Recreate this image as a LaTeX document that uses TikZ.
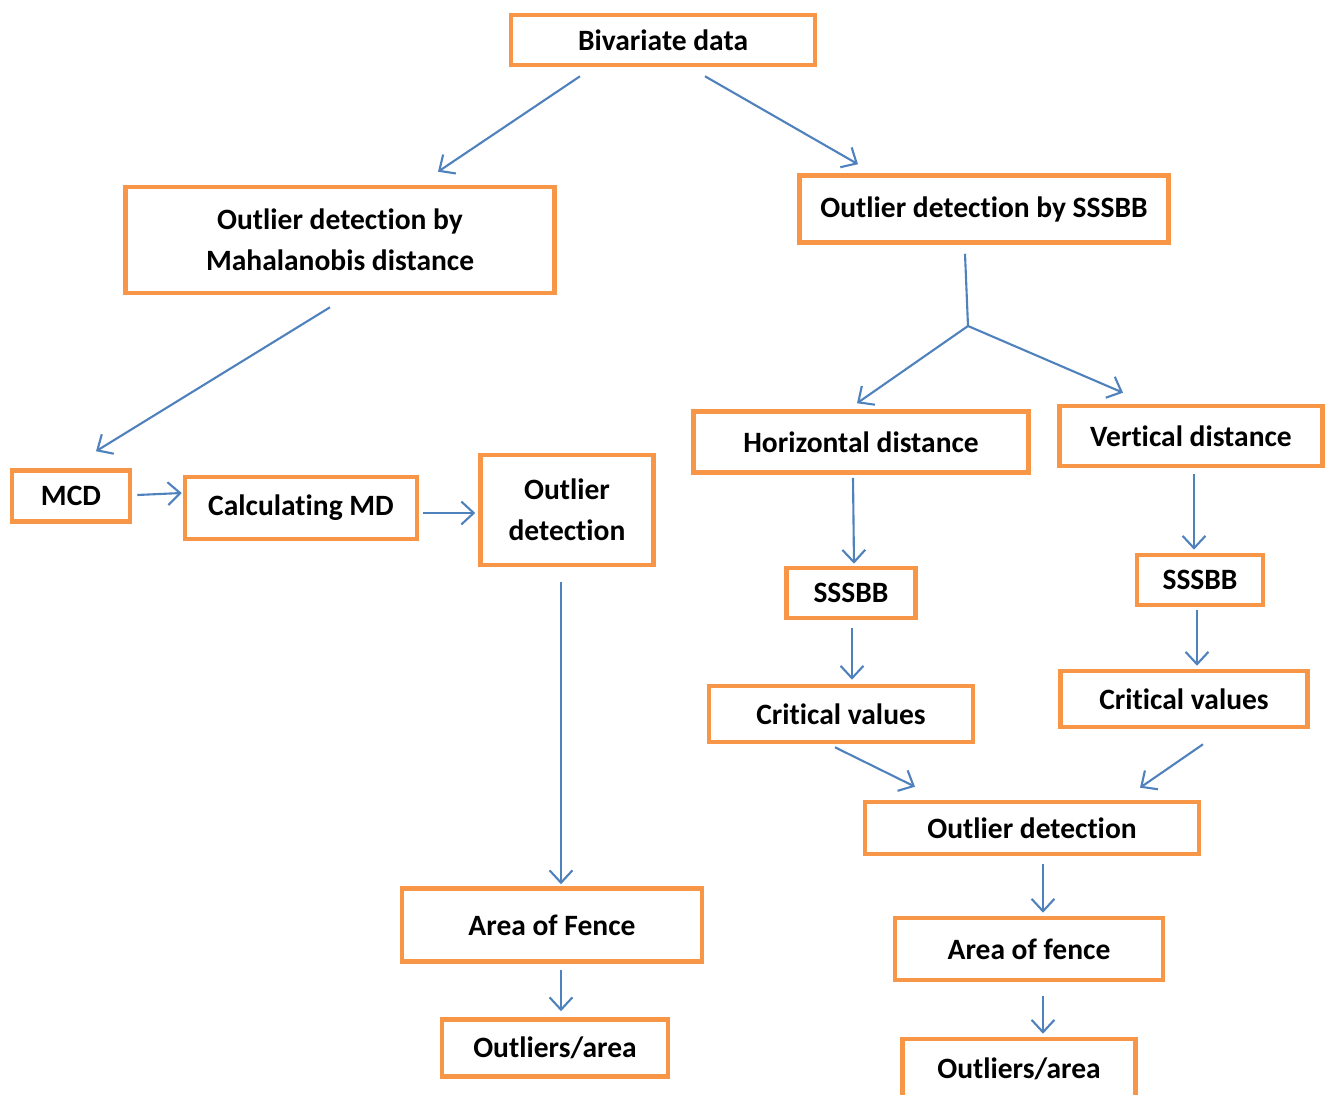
\documentclass[tikz,border=0pt]{standalone}
\usepackage{fontspec}
\setmainfont[Ligatures=NoCommon]{Carlito}
\usetikzlibrary{calc,arrows.meta}
\definecolor{boxorange}{HTML}{F79646}
\definecolor{lineblue}{HTML}{4F81BD}

\begin{document}
\begin{tikzpicture}[x=0.02cm,y=-0.02cm,
  box/.style={draw=boxorange,line width=2.6pt,inner sep=0pt,align=center,
    font=\fontsize{16.8}{23.5}\selectfont\bfseries},
  link/.style={draw=lineblue,line width=1.2pt,-{Straight Barb[length=7pt,width=13pt]}}]
\useasboundingbox (0,0) rectangle (1332,1095);
% top
\node[box,minimum width=6.08cm,minimum height=1cm] (bivar) at (663,40) {Bivariate data};
\node[box,minimum width=8.58cm,minimum height=2.12cm] (maha) at (340,240) {Outlier detection by\\Mahalanobis distance};
\node[box,minimum width=7.38cm,minimum height=1.34cm] (sssbb) at (984,209) {Outlier detection by SSSBB};
% left branch
\node[box,minimum width=2.36cm,minimum height=1.02cm] (mcd) at (71,496) {MCD};
\node[box,minimum width=4.64cm,minimum height=1.24cm] (calcmd) at (301,508) {Calculating MD};
\node[box,minimum width=3.46cm,minimum height=2.2cm] (outl) at (567,510) {Outlier\\detection};
\node[box,minimum width=6cm,minimum height=1.46cm] (fenceL) at (552,925) {Area of Fence};
\node[box,minimum width=4.52cm,minimum height=1.14cm] (areaL) at (555,1048) {Outliers/area};
% right branch
\node[box,minimum width=6.7cm,minimum height=1.22cm] (horiz) at (861,442) {Horizontal distance};
\node[box,minimum width=5.26cm,minimum height=1.2cm] (vert) at (1191,436) {Vertical distance};
\node[box,minimum width=2.58cm,minimum height=1cm] (sbL) at (851,593) {SSSBB};
\node[box,minimum width=2.52cm,minimum height=1cm] (sbR) at (1200,580) {SSSBB};
\node[box,minimum width=5.28cm,minimum height=1.12cm] (critL) at (841,714) {Critical values};
\node[box,minimum width=4.94cm,minimum height=1.12cm] (critR) at (1184,699) {Critical values};
\node[box,minimum width=6.68cm,minimum height=1.04cm] (outR) at (1032,828) {Outlier detection};
\node[box,minimum width=5.36cm,minimum height=1.24cm] (fenceR) at (1029,949) {Area of fence};
\node[box,minimum width=4.66cm,minimum height=1.2cm] (areaR) at (1019,1069) {Outliers/area};
\coordinate (split) at (968,326);

\draw[link] ($(bivar.south)+(-83,9)$) -- ($(maha.north)+(98,-13)$);
\draw[link] ($(bivar.south)+(42,9)$) -- ($(sssbb.north)+(-126,-9)$);
\draw[link] ($(maha.south)+(-10,12)$) -- ($(mcd.north)+(25,-17)$);
\draw[link] ($(mcd.east)+(5,-1)$) -- ($(calcmd.west)+(-1,-15)$);
\draw[link] ($(calcmd.east)+(4,5)$) -- ($(outl.west)+(-3,3)$);
\draw[link] ($(outl.south)+(-6,15)$) -- ($(fenceL.north)+(9,-2)$);
\draw[link] ($(fenceL.south)+(9,6)$) -- ($(areaL.north)+(6,-6)$);
\draw[lineblue,line width=1.2pt] ($(sssbb.south)+(-19,9)$) -- (split);
\draw[link] (split) -- ($(horiz.north)+(-4,-6)$);
\draw[link] (split) -- ($(vert.north)+(-68,-11)$);
\draw[link] ($(horiz.south)+(-8,3)$) -- ($(sbL.north)+(3,-2)$);
\draw[link] ($(vert.south)+(3,6)$) -- ($(sbR.north)+(-6,-3)$);
\draw[link] ($(sbL.south)+(1,8)$) -- ($(critL.north)+(11,-4)$);
\draw[link] ($(sbR.south)+(-3,3)$) -- ($(critR.north)+(13,-3)$);
\draw[link] ($(critL.south)+(-6,3)$) -- ($(outR.north)+(-117,-13)$);
\draw[link] ($(critR.south)+(19,15)$) -- ($(outR.north)+(108,-12)$);
\draw[link] ($(outR.south)+(11,8)$) -- ($(fenceR.north)+(14,-3)$);
\draw[link] ($(fenceR.south)+(14,14)$) -- ($(areaR.north)+(24,-3)$);
\end{tikzpicture}
\end{document}
